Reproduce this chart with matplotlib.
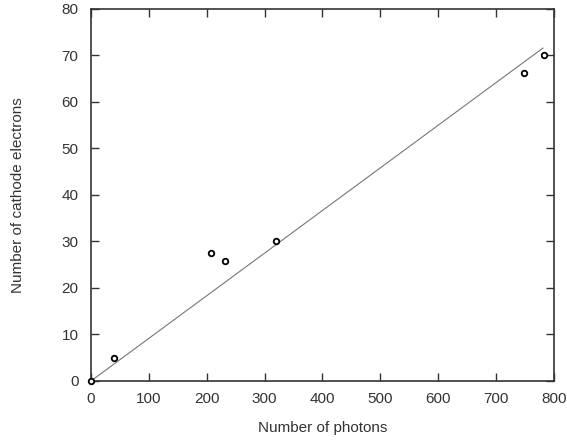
import matplotlib
matplotlib.use('Agg')
import matplotlib.pyplot as plt

plt.rcParams['font.family'] = ['Liberation Sans', 'DejaVu Sans']

photons = [0, 40, 208, 232, 320, 748, 783]
electrons = [0, 5, 27.5, 25.8, 30, 66.2, 70.2]

fit_x = [0, 781]
fit_y = [0, 71.6]

fig = plt.figure(figsize=(5.67, 4.43), dpi=100)
ax = fig.add_axes([0.1605, 0.140, 0.8165, 0.8397])

ax.plot(fit_x, fit_y, color='#777777', lw=0.8)
ax.plot(photons, electrons, 'o', mfc='white', mec='black', ms=4, mew=1.3,
        clip_on=False, zorder=5)

ax.set_xlim(0, 800)
ax.set_ylim(0, 80)
ax.set_xticks(range(0, 801, 100))
ax.set_yticks(range(0, 81, 10))
ax.tick_params(direction='in', length=6, width=1, top=True, right=True,
               labelsize=11, colors='#333333')
ax.tick_params(axis='x', pad=8)
ax.tick_params(axis='y', pad=9)
for s in ax.spines.values():
    s.set_linewidth(1.2)
    s.set_color('#333333')

ax.set_xlabel('Number of photons', fontsize=11, color='#333333')
ax.set_ylabel('Number of cathode electrons', fontsize=11, color='#333333')
ax.xaxis.set_label_coords(0.5, -0.108)
ax.yaxis.set_label_coords(-0.142, 0.5)

fig.savefig('out.png', dpi=100)
